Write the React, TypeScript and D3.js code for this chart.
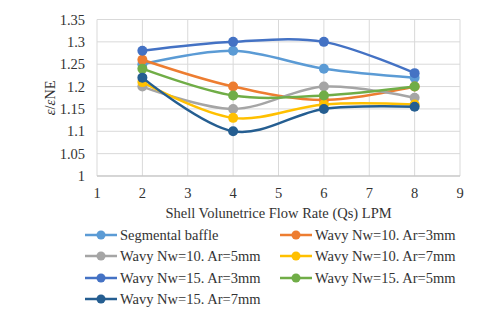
import React from 'react';
import * as d3 from 'd3';

const flowRates = [2, 4, 6, 8];
const seriesNames = [
  'Segmental baffle',
  'Wavy Nw=10. Ar=3mm',
  'Wavy Nw=10. Ar=5mm',
  'Wavy Nw=10. Ar=7mm',
  'Wavy Nw=15. Ar=3mm',
  'Wavy Nw=15. Ar=5mm',
  'Wavy Nw=15. Ar=7mm',
];
const segmental = [1.25, 1.28, 1.24, 1.22];
const nw10ar3 = [1.26, 1.2, 1.17, 1.2];
const nw10ar5 = [1.2, 1.15, 1.2, 1.175];
const nw10ar7 = [1.21, 1.13, 1.16, 1.16];
const nw15ar3 = [1.28, 1.3, 1.3, 1.23];
const nw15ar5 = [1.24, 1.18, 1.18, 1.2];
const nw15ar7 = [1.22, 1.1, 1.15, 1.155];
const colors = ['#5B9BD5', '#ED7D31', '#A5A5A5', '#FFC000', '#4472C4', '#70AD47', '#255E91'];
const xTicks = [1, 2, 3, 4, 5, 6, 7, 8, 9];
const yTicks = [1, 1.05, 1.1, 1.15, 1.2, 1.25, 1.3, 1.35];

const allSeries = [segmental, nw10ar3, nw10ar5, nw10ar7, nw15ar3, nw15ar5, nw15ar7];

const W = 480;
const H = 313;
const font = '"Liberation Serif", "Times New Roman", serif';
const fs = 14.5;

export default function App() {
  const x = d3.scaleLinear().domain([1, 9]).range([97, 460]);
  const y = d3.scaleLinear().domain([1, 1.35]).range([176, 19.5]);

  const line = d3
    .line<number>()
    .x((_, i) => x(flowRates[i]))
    .y((d) => y(d))
    .curve(d3.curveCardinal.tension(0));

  // legend placement
  const legendRows = [235, 256, 278, 299];
  const legendCols = [85, 280];

  return (
    <svg width={W} height={H} style={{ position: 'absolute', left: 0, top: 0, background: '#fff', fontFamily: font }}>
      {/* gridlines */}
      {yTicks.map((t) => (
        <line key={'gy' + t} x1={x(1)} x2={x(9)} y1={y(t)} y2={y(t)} stroke="#D9D9D9" strokeWidth={1} />
      ))}
      {xTicks.map((t) => (
        <line key={'gx' + t} x1={x(t)} x2={x(t)} y1={y(1.35)} y2={y(1)} stroke="#D9D9D9" strokeWidth={1} />
      ))}
      <line x1={x(1)} x2={x(9)} y1={y(1)} y2={y(1)} stroke="#BFBFBF" strokeWidth={1} />

      {/* tick labels */}
      {yTicks.map((t) => (
        <text key={'ty' + t} x={85} y={y(t)} dy="0.35em" textAnchor="end" fontSize={fs} fill="#333" style={{ fontFamily: font }}>
          {d3.format('')(t)}
        </text>
      ))}
      {xTicks.map((t) => (
        <text key={'tx' + t} x={x(t)} y={193} dy="0.35em" textAnchor="middle" fontSize={fs} fill="#333" style={{ fontFamily: font }}>
          {t}
        </text>
      ))}
      <text x={x(5)} y={213} dy="0.35em" textAnchor="middle" fontSize={fs} fill="#333" style={{ fontFamily: font }}>
        Shell Volunetrice Flow Rate (Qs) LPM
      </text>
      <text
        transform={`translate(50, ${y(1.175)}) rotate(-90)`}
        textAnchor="middle"
        dy="0.35em"
        fontSize={fs}
        fill="#333"
        style={{ fontFamily: font }}
      >
        <tspan fontStyle="italic">ε</tspan>/<tspan fontStyle="italic">ε</tspan>NE
      </text>

      {/* series */}
      {allSeries.map((vals, s) => (
        <g key={'s' + s}>
          <path d={line(vals) || ''} fill="none" stroke={colors[s]} strokeWidth={2.5} />
          {vals.map((v, i) => (
            <circle key={i} cx={x(flowRates[i])} cy={y(v)} r={5} fill={colors[s]} />
          ))}
        </g>
      ))}

      {/* legend */}
      {seriesNames.map((name, s) => {
        const lx = legendCols[s % 2];
        const ly = legendRows[Math.floor(s / 2)];
        return (
          <g key={'l' + s}>
            <line x1={lx} x2={lx + 32} y1={ly} y2={ly} stroke={colors[s]} strokeWidth={2.5} />
            <circle cx={lx + 16} cy={ly} r={4.5} fill={colors[s]} />
            <text x={lx + 35} y={ly} dy="0.35em" fontSize={fs} fill="#333" style={{ fontFamily: font }}>
              {name}
            </text>
          </g>
        );
      })}
    </svg>
  );
}
